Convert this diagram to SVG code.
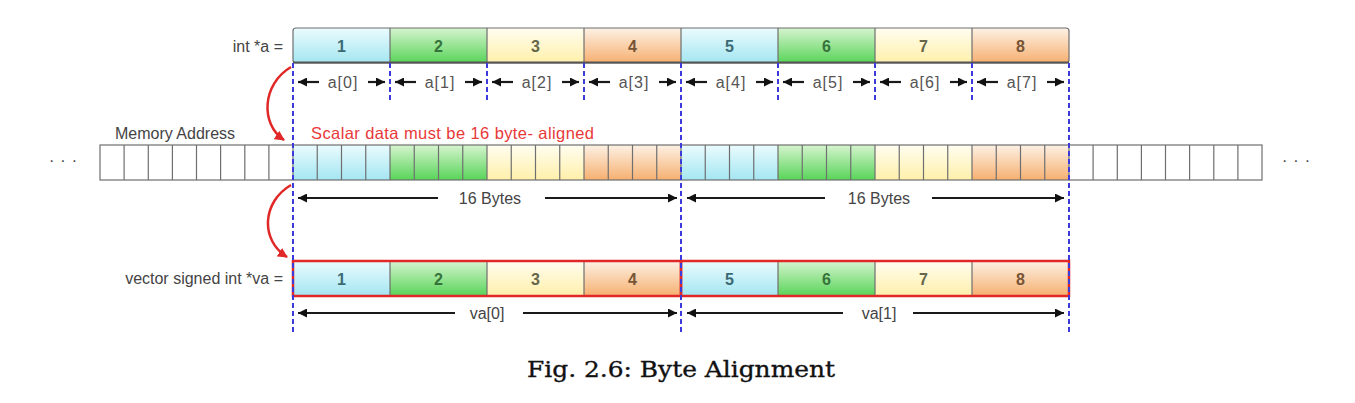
<svg xmlns="http://www.w3.org/2000/svg" width="1355" height="403" viewBox="0 0 1355 403">
<defs>
<linearGradient id="gc" x1="0" y1="0" x2="0" y2="1"><stop offset="0" stop-color="#eafbfd"/><stop offset="1" stop-color="#a4e6f2"/></linearGradient>
<linearGradient id="gg" x1="0" y1="0" x2="0" y2="1"><stop offset="0" stop-color="#d6f4cf"/><stop offset="1" stop-color="#58d458"/></linearGradient>
<linearGradient id="gy" x1="0" y1="0" x2="0" y2="1"><stop offset="0" stop-color="#fffdf0"/><stop offset="1" stop-color="#fff0aa"/></linearGradient>
<linearGradient id="go" x1="0" y1="0" x2="0" y2="1"><stop offset="0" stop-color="#fdf1e4"/><stop offset="1" stop-color="#f6b070"/></linearGradient>
<marker id="ah" viewBox="0 0 10 10" refX="10" refY="5" markerWidth="9" markerHeight="9" markerUnits="userSpaceOnUse" orient="auto"><path d="M0,0 L10,5 L0,10 z" fill="#111"/></marker>
<marker id="rh" viewBox="0 0 10 10" refX="9" refY="5" markerWidth="10" markerHeight="10" markerUnits="userSpaceOnUse" orient="auto"><path d="M0,0 L10,5 L0,10 z" fill="#e02828"/></marker>
</defs>
<style>
.lbl{font-family:"Liberation Sans",Arial,sans-serif;font-size:16px;fill:#444}
.num{font-family:"Liberation Sans",Arial,sans-serif;font-size:16px;text-anchor:middle;font-weight:bold}
.n1{fill:#3b6a75}.n2{fill:#36733a}.n3{fill:#66664a}.n4{fill:#765436}
.idx{font-family:"Liberation Sans",Arial,sans-serif;font-size:16px;fill:#555;text-anchor:middle;letter-spacing:1px}
.arr{stroke:#1a1a1a;stroke-width:2.2;fill:none;marker-end:url(#ah)}
.div{stroke:#6f6f6f;stroke-width:1.2;fill:none}
.blue{stroke:#3b3bdc;stroke-width:2;stroke-dasharray:5 3;fill:none}
.red{stroke:#e02828;stroke-width:2.5;fill:none}
.cap{font-family:"DejaVu Serif","Liberation Serif",serif;font-size:23px;fill:#111;stroke:#111;stroke-width:0.35;text-anchor:middle}
</style>
<rect width="1355" height="403" fill="#fff"/>

<g id="array-a">
<text class="lbl" x="283" y="52" text-anchor="end">int *a =</text>
<rect x="293" y="28" width="97" height="35" fill="url(#gc)"/>
<rect x="390" y="28" width="97" height="35" fill="url(#gg)"/>
<rect x="487" y="28" width="97" height="35" fill="url(#gy)"/>
<rect x="584" y="28" width="97" height="35" fill="url(#go)"/>
<rect x="681" y="28" width="97" height="35" fill="url(#gc)"/>
<rect x="778" y="28" width="97" height="35" fill="url(#gg)"/>
<rect x="875" y="28" width="97" height="35" fill="url(#gy)"/>
<rect x="972" y="28" width="97" height="35" fill="url(#go)"/>
<rect x="293" y="28" width="776" height="35" rx="3" class="div" stroke-width="1.5"/>
<path class="div" d="M390,28V63M487,28V63M584,28V63M681,28V63M778,28V63M875,28V63M972,28V63"/>
<line x1="293" y1="62.5" x2="1069" y2="62.5" stroke="#555" stroke-width="2"/>
<text class="num n1" x="341.5" y="52">1</text>
<text class="num n2" x="438.5" y="52">2</text>
<text class="num n3" x="535.5" y="52">3</text>
<text class="num n4" x="632.5" y="52">4</text>
<text class="num n1" x="729.5" y="52">5</text>
<text class="num n2" x="826.5" y="52">6</text>
<text class="num n3" x="923.5" y="52">7</text>
<text class="num n4" x="1020.5" y="52">8</text>
</g>

<g id="memory">
<text class="lbl" x="115" y="139">Memory Address</text>
<text class="lbl" x="66" y="166" text-anchor="middle" fill="#777" letter-spacing="6">···</text>
<text class="lbl" x="1299" y="166" text-anchor="middle" fill="#777" letter-spacing="6">···</text>
<rect x="100" y="145" width="1162" height="35" fill="#fff"/>
<rect x="293" y="145" width="97" height="35" fill="url(#gc)"/>
<rect x="390" y="145" width="97" height="35" fill="url(#gg)"/>
<rect x="487" y="145" width="97" height="35" fill="url(#gy)"/>
<rect x="584" y="145" width="97" height="35" fill="url(#go)"/>
<rect x="681" y="145" width="97" height="35" fill="url(#gc)"/>
<rect x="778" y="145" width="97" height="35" fill="url(#gg)"/>
<rect x="875" y="145" width="97" height="35" fill="url(#gy)"/>
<rect x="972" y="145" width="97" height="35" fill="url(#go)"/>
<rect x="100" y="145" width="1162" height="35" class="div" stroke-width="1.5"/>
<path class="div" d="M124.1,145V180M148.3,145V180M172.4,145V180M196.5,145V180M220.6,145V180M244.8,145V180M268.9,145V180M293,145V180M317.25,145V180M341.5,145V180M365.75,145V180M390,145V180M414.25,145V180M438.5,145V180M462.75,145V180M487,145V180M511.25,145V180M535.5,145V180M559.75,145V180M584,145V180M608.25,145V180M632.5,145V180M656.75,145V180M681,145V180M705.25,145V180M729.5,145V180M753.75,145V180M778,145V180M802.25,145V180M826.5,145V180M850.75,145V180M875,145V180M899.25,145V180M923.5,145V180M947.75,145V180M972,145V180M996.25,145V180M1020.5,145V180M1044.75,145V180M1069,145V180M1093.1,145V180M1117.3,145V180M1141.4,145V180M1165.5,145V180M1189.6,145V180M1213.8,145V180M1237.9,145V180"/>
<text x="311" y="139" font-family="Liberation Sans, Arial, sans-serif" font-size="16.5" fill="#e83838" textLength="283">Scalar data must be 16 byte- aligned</text>
</g>

<g id="array-va">
<text class="lbl" x="283" y="284" text-anchor="end" font-size="16.5">vector signed int *va =</text>
<rect x="293" y="261" width="97" height="35" fill="url(#gc)"/>
<rect x="390" y="261" width="97" height="35" fill="url(#gg)"/>
<rect x="487" y="261" width="97" height="35" fill="url(#gy)"/>
<rect x="584" y="261" width="97" height="35" fill="url(#go)"/>
<rect x="681" y="261" width="97" height="35" fill="url(#gc)"/>
<rect x="778" y="261" width="97" height="35" fill="url(#gg)"/>
<rect x="875" y="261" width="97" height="35" fill="url(#gy)"/>
<rect x="972" y="261" width="97" height="35" fill="url(#go)"/>
<path class="div" d="M390,261V296M487,261V296M584,261V296M778,261V296M875,261V296M972,261V296"/>
<rect x="293" y="261" width="388" height="35" class="red"/>
<rect x="681" y="261" width="388" height="35" class="red"/>
<text class="num n1" x="341.5" y="285">1</text>
<text class="num n2" x="438.5" y="285">2</text>
<text class="num n3" x="535.5" y="285">3</text>
<text class="num n4" x="632.5" y="285">4</text>
<text class="num n1" x="729.5" y="285">5</text>
<text class="num n2" x="826.5" y="285">6</text>
<text class="num n3" x="923.5" y="285">7</text>
<text class="num n4" x="1020.5" y="285">8</text>
</g>

<g id="connectors">
<path class="blue" d="M293,63V334M681,63V334M1069,63V334"/>
<path class="blue" d="M390,63V101M487,63V101M584,63V101M778,63V101M875,63V101M972,63V101"/>
<path class="red" d="M291,67 C262,84 260,124 284,140" marker-end="url(#rh)"/>
<path class="red" d="M291,185 C262,202 260,240 287,257" marker-end="url(#rh)"/>
<g id="a-index">
<path class="arr" d="M319,82H298"/><path class="arr" d="M368,82H385"/>
<path class="arr" d="M416,82H395"/><path class="arr" d="M465,82H482"/>
<path class="arr" d="M513,82H492"/><path class="arr" d="M562,82H579"/>
<path class="arr" d="M610,82H589"/><path class="arr" d="M659,82H676"/>
<path class="arr" d="M707,82H686"/><path class="arr" d="M756,82H773"/>
<path class="arr" d="M804,82H783"/><path class="arr" d="M853,82H870"/>
<path class="arr" d="M901,82H880"/><path class="arr" d="M950,82H967"/>
<path class="arr" d="M998,82H977"/><path class="arr" d="M1047,82H1064"/>
<text class="idx" x="343" y="88">a[0]</text>
<text class="idx" x="440" y="88">a[1]</text>
<text class="idx" x="537" y="88">a[2]</text>
<text class="idx" x="634" y="88">a[3]</text>
<text class="idx" x="731" y="88">a[4]</text>
<text class="idx" x="828" y="88">a[5]</text>
<text class="idx" x="925" y="88">a[6]</text>
<text class="idx" x="1022" y="88">a[7]</text>
</g>
<g id="bytes">
<path class="arr" d="M438,198H298"/><path class="arr" d="M545,198H677"/>
<path class="arr" d="M825,198H687"/><path class="arr" d="M932,198H1064"/>
<text class="lbl" x="490" y="204" text-anchor="middle">16 Bytes</text>
<text class="lbl" x="879" y="204" text-anchor="middle">16 Bytes</text>
</g>
<g id="va-index">
<path class="arr" d="M455,313H298"/><path class="arr" d="M523,313H677"/>
<path class="arr" d="M843,313H687"/><path class="arr" d="M913,313H1064"/>
<text class="lbl" x="487" y="319" text-anchor="middle">va[0]</text>
<text class="lbl" x="879" y="319" text-anchor="middle">va[1]</text>
</g>
</g>

<text class="cap" x="681" y="377" textLength="308" lengthAdjust="spacingAndGlyphs">Fig. 2.6: Byte Alignment</text>
</svg>
